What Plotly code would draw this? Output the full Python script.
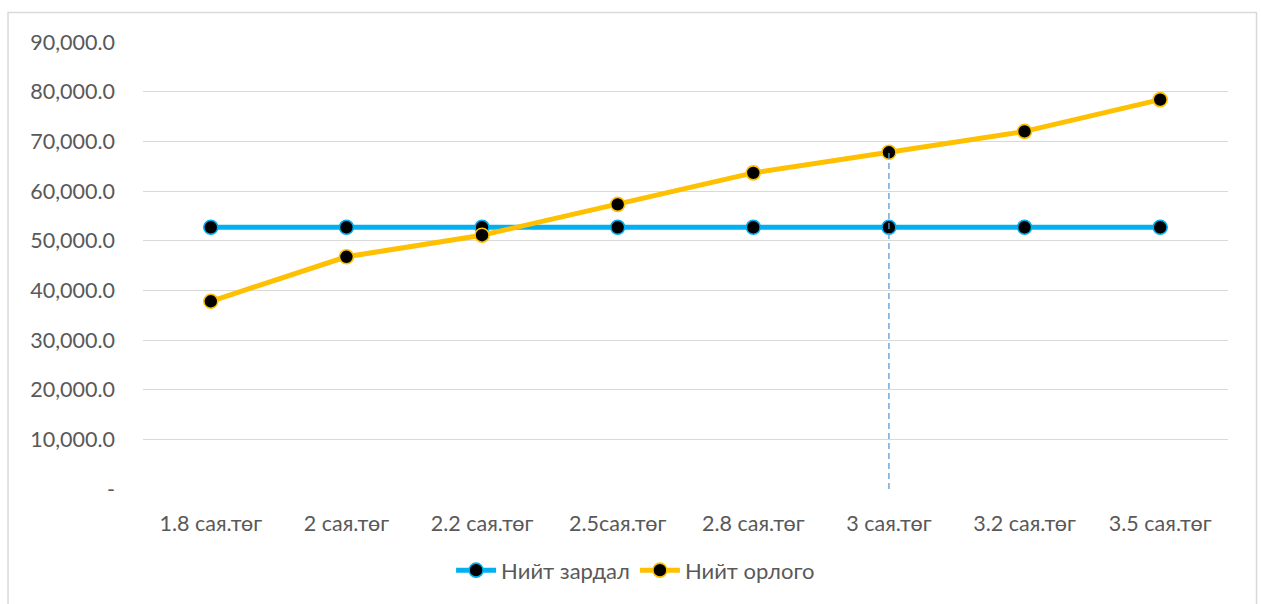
import plotly.graph_objects as go

# Price levels (million tögrög) and the two totals
categories = ["1.8 сая.төг", "2 сая.төг", "2.2 сая.төг", "2.5сая.төг",
              "2.8 сая.төг", "3 сая.төг", "3.2 сая.төг", "3.5 сая.төг"]
total_cost = [52700, 52700, 52700, 52700, 52700, 52700, 52700, 52700]
total_revenue = [37800, 46750, 51100, 57300, 63650, 67800, 72000, 78400]

# Reference level highlighted by a dashed drop line
marked_category = "3 сая.төг"

y_tickvals = [0, 10000, 20000, 30000, 40000, 50000, 60000, 70000, 80000, 90000]
y_ticktext = ["-", "10,000.0", "20,000.0", "30,000.0", "40,000.0", "50,000.0",
              "60,000.0", "70,000.0", "80,000.0", "90,000.0"]

BLUE = "#00B0F0"
GOLD = "#FFC000"
TEXT = "#595959"
FONT = "Lato"

fig = go.Figure()

fig.add_trace(go.Scatter(
    x=categories, y=total_cost, name="Нийт зардал", mode="lines+markers",
    line=dict(color=BLUE, width=5),
    marker=dict(size=14, color="black", line=dict(color=BLUE, width=1.6)),
))
fig.add_trace(go.Scatter(
    x=categories, y=total_revenue, name="Нийт орлого", mode="lines+markers",
    line=dict(color=GOLD, width=5),
    marker=dict(size=14, color="black", line=dict(color=GOLD, width=1.6)),
))

idx = categories.index(marked_category)
fig.add_trace(go.Scatter(
    x=[marked_category, marked_category], y=[0, total_revenue[idx]],
    mode="lines", showlegend=False, hoverinfo="skip",
    line=dict(color="#5B9BD5", width=1.3, dash="6px,4px"),
))

# Outer chart border
fig.add_shape(type="rect", xref="paper", yref="paper",
              x0=-0.1244, x1=1.0263, y0=-0.3, y1=1.0658,
              line=dict(color="#D9D9D9", width=1.5), fillcolor="rgba(0,0,0,0)",
              layer="below")

fig.update_layout(
    width=1261, height=604,
    margin=dict(l=143, r=33, t=41.5, b=114.5),
    paper_bgcolor="white", plot_bgcolor="white",
    font=dict(family=FONT, size=21, color=TEXT),
    showlegend=True,
    legend=dict(orientation="h", x=0.454, xanchor="center", y=-0.135, yanchor="top",
                font=dict(family=FONT, size=22, color=TEXT), itemwidth=40,
                traceorder="normal"),
    xaxis=dict(
        type="category", showgrid=False, zeroline=False, showline=False,
        ticks="", tickfont=dict(family=FONT, size=21.5, color=TEXT),
        ticklabelstandoff=19, range=[-0.5, len(categories) - 0.5],
    ),
    yaxis=dict(
        range=[0, 90000], tickvals=y_tickvals, ticktext=y_ticktext,
        showgrid=True, gridcolor="#D9D9D9", gridwidth=1.3,
        zeroline=False, showline=False, ticks="",
        tickfont=dict(family=FONT, size=21.5, color=TEXT),
        ticklabelstandoff=27,
    ),
)

fig.write_html("out.html")
